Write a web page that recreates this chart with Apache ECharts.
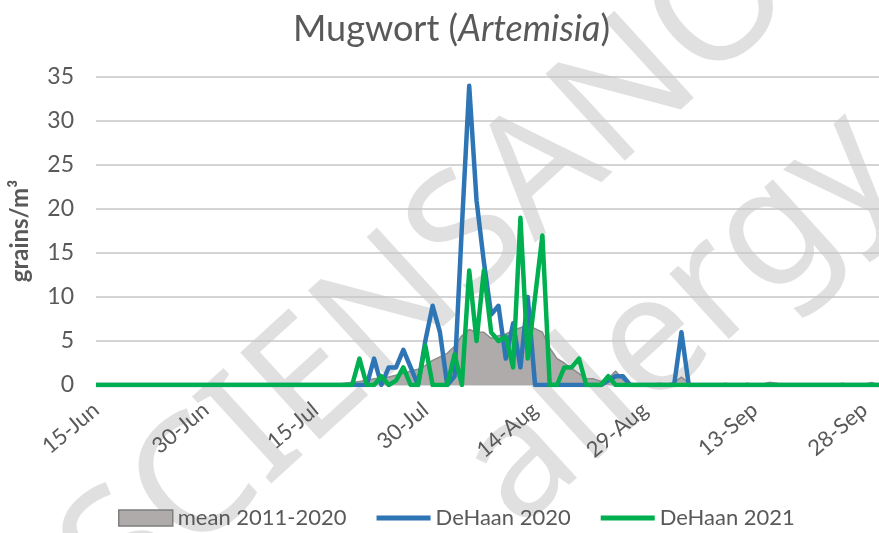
<!DOCTYPE html>
<html lang="en">
<head>
<meta charset="UTF-8">
<title>Mugwort</title>
<script src="https://cdnjs.cloudflare.com/ajax/libs/echarts/6.0.0/echarts.min.js"></script>
<style>html, body { margin: 0; padding: 0; background: #fff; }</style>
</head>
<body>
<div id="main" style="width:879px;height:533px;"></div>
<script>
// x axis: one category per day, 15-Jun .. 30-Sep
const monthSpans = [['Jun', 15, 30], ['Jul', 1, 31], ['Aug', 1, 31], ['Sep', 1, 30]];
const days = [];
monthSpans.forEach(m => { for (let d = m[1]; d <= m[2]; d++) days.push(d + '-' + m[0]); });

const seriesNames = ['mean 2011-2020', 'DeHaan 2020', 'DeHaan 2021'];

// grains/m3 per day
const mean2011_2020 = [
  0, 0, 0, 0, 0, 0, 0, 0, 0, 0,
  0, 0, 0, 0, 0, 0, 0, 0, 0, 0,
  0, 0, 0, 0, 0, 0, 0, 0, 0, 0,
  0, 0, 0, 0.1, 0.2, 0.3, 0.4, 0.5, 0.7, 0.8,
  0.9, 1.1, 1.3, 1.6, 1.8, 2.2, 2.8, 3.2, 3.6, 4.4,
  5.6, 6.3, 6.0, 6.0, 5.3, 5.6, 5.8, 6.2, 6.5, 6.8,
  6.4, 6.0, 4.2, 3.0, 2.5, 1.9, 1.3, 0.7, 0.7, 0.4,
  0.7, 1.6, 0.6, 0.2, 0.1, 0.1, 0.1, 0.2, 0.1, 0.3,
  0.9, 0.2, 0.1, 0, 0.1, 0, 0.2, 0, 0, 0.2,
  0, 0.1, 0.3, 0.2, 0, 0, 0, 0, 0, 0,
  0, 0, 0.2, 0, 0, 0.1, 0.3, 0
];
const deHaan2020 = [
  0, 0, 0, 0, 0, 0, 0, 0, 0, 0,
  0, 0, 0, 0, 0, 0, 0, 0, 0, 0,
  0, 0, 0, 0, 0, 0, 0, 0, 0, 0,
  0, 0, 0, 0, 0, 0, 0, 0, 3, 0,
  2, 2, 4, 2, 0, 5, 9, 6, 0, 1,
  18, 34, 21, 14, 8, 9, 3, 7, 2, 10,
  0, 0, 0, 0, 0, 0, 0, 0, 0, 0,
  0.5, 1, 1, 0, 0, 0, 0, 0, 0, 0,
  6, 0, 0, 0, 0, 0, 0, 0, 0, 0,
  0, 0, 0, 0, 0, 0, 0, 0, 0, 0,
  0, 0, 0, 0, 0, 0, 0, 0
];
const deHaan2021 = [
  0, 0, 0, 0, 0, 0, 0, 0, 0, 0,
  0, 0, 0, 0, 0, 0, 0, 0, 0, 0,
  0, 0, 0, 0, 0, 0, 0, 0, 0, 0,
  0, 0, 0, 0, 0, 0, 3, 0, 0, 1,
  0, 0.5, 2, 0, 0, 4.5, 0, 0, 0, 3.5,
  0, 13, 5, 13, 6, 5, 5.5, 2, 19, 3,
  10, 17, 0, 0, 2, 2, 3, 0, 0, 0,
  1, 0, 0, 0, 0, 0, 0, 0, 0, 0,
  0, 0, 0, 0, 0, 0, 0, 0, 0, 0,
  0, 0, 0, 0, 0, 0, 0, 0, 0, 0,
  0, 0, 0, 0, 0, 0, 0, 0
];

const font = 'Lato';
const txt = '#595959';
const chart = echarts.init(document.getElementById('main'));

chart.setOption({
  animation: false,
  textStyle: { fontFamily: font },
  title: {
    text: '{n|Mugwort (}{i|Artemisia}{n|)}',
    left: 288,
    top: 6,
    textStyle: {
      rich: {
        n: { fontSize: 36, color: txt, fontFamily: font, fontWeight: 'normal' },
        i: { fontSize: 36, color: txt, fontFamily: font, fontWeight: 'normal', fontStyle: 'italic' }
      }
    }
  },
  // watermark
  graphic: [
    {
      type: 'text', x: 430, y: 275, rotation: 0.74, z: -10, silent: true,
      style: { text: 'SCIENSANO', fontSize: 165, fontFamily: 'Noto Sans', fill: 'rgba(0,0,0,0.12)', textAlign: 'center', textVerticalAlign: 'middle' }
    },
    {
      type: 'text', x: 680, y: 320, rotation: 0.74, z: -10, silent: true,
      style: { text: 'allergy', fontSize: 165, fontFamily: 'Noto Sans', fill: 'rgba(0,0,0,0.12)', textAlign: 'center', textVerticalAlign: 'middle' }
    }
  ],
  legend: {
    left: 113,
    bottom: -1,
    itemWidth: 54,
    itemHeight: 16,
    itemGap: 30,
    textStyle: { fontSize: 22, color: txt, fontFamily: font },
    data: [
      { name: seriesNames[0], icon: 'rect', itemStyle: { color: '#AFABAB', borderColor: '#7F7F7F', borderWidth: 1.5 } },
      { name: seriesNames[1], icon: 'path://M0,0H54V5H0Z', itemStyle: { color: '#2E75B6' } },
      { name: seriesNames[2], icon: 'path://M0,0H54V5H0Z', itemStyle: { color: '#00B050' } }
    ]
  },
  grid: { left: 95, top: 77, right: -3, bottom: 148 },
  xAxis: {
    type: 'category',
    data: days,
    boundaryGap: false,
    axisTick: { show: false },
    axisLine: { lineStyle: { color: '#d9d9d9' } },
    axisLabel: { interval: 14, rotate: 40, fontSize: 22, color: txt, margin: 22 }
  },
  yAxis: {
    type: 'value',
    min: 0,
    max: 35,
    interval: 5,
    name: 'grains/m³',
    nameLocation: 'middle',
    nameGap: 64,
    nameTextStyle: { fontSize: 24, fontWeight: 'bold', color: txt, fontFamily: font },
    axisLabel: { fontSize: 23, color: txt, margin: 22 },
    splitLine: { lineStyle: { color: '#c6c6c6', width: 1.5 } }
  },
  series: [
    {
      name: seriesNames[0], type: 'line', data: mean2011_2020, symbol: 'none',
      lineStyle: { color: '#8C8C8C', width: 1.5 },
      itemStyle: { color: '#AFABAB' },
      areaStyle: { color: '#AFABAB', opacity: 1 }
    },
    {
      name: seriesNames[1], type: 'line', data: deHaan2020, symbol: 'none',
      lineStyle: { color: '#2E75B6', width: 4.5, join: 'round' },
      itemStyle: { color: '#2E75B6' }
    },
    {
      name: seriesNames[2], type: 'line', data: deHaan2021, symbol: 'none',
      lineStyle: { color: '#00B050', width: 4.5, join: 'round' },
      itemStyle: { color: '#00B050' }
    }
  ]
});
</script>
</body>
</html>
